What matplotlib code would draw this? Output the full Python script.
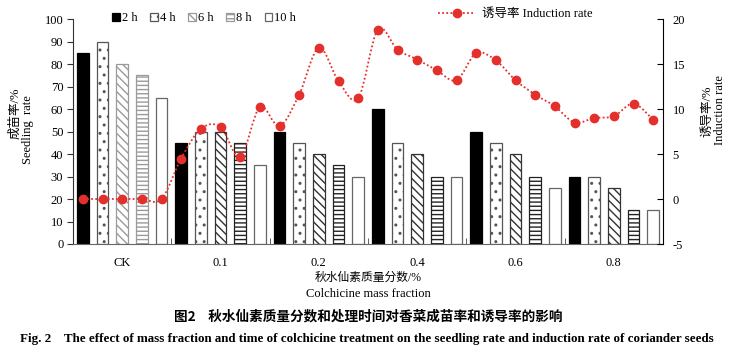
import numpy as np
import matplotlib.pyplot as plt
from matplotlib.path import Path
from matplotlib.patches import PathPatch
from matplotlib.lines import Line2D

plt.rcParams["axes.unicode_minus"] = False

W, H = 733, 352

groups = ["CK", "0.1", "0.2", "0.4", "0.6", "0.8"]
hours = ["2 h", "4 h", "6 h", "8 h", "10 h"]

# seedling rate (%) for each treatment time, one value per mass fraction
seed_2h = [85, 45, 50, 60, 50, 30]
seed_4h = [90, 50, 45, 45, 45, 30]
seed_6h = [80, 50, 40, 40, 40, 25]
seed_8h = [75, 45, 35, 30, 30, 15]
seed_10h = [65, 35, 30, 30, 25, 15]

# induction rate (%), in bar order: CK 2h..10h, 0.1 2h..10h, ...
induct = [0, 0, 0, 0, 0,
          4.5, 7.8, 8.0, 4.7, 10.2,
          8.1, 11.6, 16.8, 13.1, 11.2,
          18.8, 16.6, 15.5, 14.3, 13.2,
          16.2, 15.4, 13.2, 11.6, 10.3,
          8.5, 9.0, 9.2, 10.6, 8.8]

serif = ["Liberation Serif", "Noto Sans CJK SC"]
cjk = ["Noto Sans CJK SC", "Liberation Serif"]
red = "#e3302c"

fig = plt.figure(figsize=(W / 100, H / 100), dpi=100)
ax = fig.add_axes([73 / W, 1 - 244 / H, 590 / W, 225 / H])

series = [seed_2h, seed_4h, seed_6h, seed_8h, seed_10h]
styles = [
    dict(facecolor="black", edgecolor="black", hatch=None),
    dict(facecolor="white", edgecolor="#555555", hatch=".."),
    dict(facecolor="white", edgecolor="#333333", hatch="\\\\\\\\"),
    dict(facecolor="white", edgecolor="#222222", hatch="----"),
    dict(facecolor="white", edgecolor="#666666", hatch=None),
]
ng = len(groups)
handles = []
for h, (vals, st) in enumerate(zip(series, styles)):
    xpos = np.arange(ng) * 5 + h
    bars = ax.bar(xpos, vals, width=0.58, linewidth=0.9, zorder=2, **st)
    handles.append(bars)
    # CK group hatching looks lighter in the original
    if h in (2, 3):
        bars[0].set_edgecolor("#9a9a9a")

ax.set_xlim(-0.5, ng * 5 - 0.5)
ax.set_ylim(0, 100)
ax.set_yticks(range(0, 101, 10))
ax.set_xticks(np.arange(ng) * 5 + 2)
ax.set_xticklabels(groups)
ax.set_xticks(np.arange(1, ng) * 5 - 0.5, minor=True)
ax.tick_params(axis="x", which="major", length=0, pad=9)
ax.tick_params(axis="x", which="minor", direction="in", length=4, color="#444444")
ax.tick_params(axis="y", direction="out", length=4, pad=3, color="#333333")
for lab in ax.get_xticklabels() + ax.get_yticklabels():
    lab.set_family(serif)
    lab.set_fontsize(9)
ax.spines["top"].set_visible(False)
ax.spines["right"].set_visible(False)
ax.spines["left"].set_color("#333333")
ax.spines["bottom"].set_color("#666666")

ax2 = ax.twinx()
ax2.set_ylim(-5, 20)
ax2.set_yticks(range(-5, 21, 5))
ax2.tick_params(axis="y", direction="in", length=4, pad=7)
for lab in ax2.get_yticklabels():
    lab.set_family(serif)
    lab.set_fontsize(9)
ax2.spines["top"].set_visible(False)
ax2.spines["left"].set_visible(False)
ax2.spines["bottom"].set_visible(False)

# smoothed line (Catmull-Rom style bezier through the points)
xs = np.arange(len(induct), dtype=float)
ys = np.array(induct, dtype=float)
pts = np.column_stack([xs, ys])
verts = [tuple(pts[0])]
codes = [Path.MOVETO]
n = len(pts)
for i in range(n - 1):
    p0 = pts[max(i - 1, 0)]
    p1 = pts[i]
    p2 = pts[i + 1]
    p3 = pts[min(i + 2, n - 1)]
    c1 = p1 + (p2 - p0) / 6
    c2 = p2 - (p3 - p1) / 6
    verts += [tuple(c1), tuple(c2), tuple(p2)]
    codes += [Path.CURVE4] * 3
ax2.add_patch(PathPatch(Path(verts, codes), fill=False, edgecolor=red,
                        linewidth=1.3, linestyle=(0, (1, 1.3)), zorder=3))
ax2.plot(xs, ys, "o", color=red, markersize=6, linestyle="none", zorder=4)

leg1 = ax2.legend(handles, hours, ncol=5, loc="upper left",
                  bbox_to_anchor=(112 / W, 1 - 12 / H), bbox_transform=fig.transFigure,
                  frameon=False, borderpad=0, borderaxespad=0,
                  handlelength=0.6, handleheight=0.6, handletextpad=0.2,
                  columnspacing=1.0, prop=dict(family=serif, size=9))
ax2.add_artist(leg1)
proxy = Line2D([], [], color=red, linestyle=(0, (1, 1.3)), linewidth=1.3,
               marker="o", markersize=6)
ax2.legend([proxy], ["诱导率 Induction rate"], loc="upper left",
           bbox_to_anchor=(438 / W, 1 - 8 / H), bbox_transform=fig.transFigure,
           frameon=False, borderpad=0, borderaxespad=0, numpoints=1,
           handlelength=3.0, handletextpad=0.5, prop=dict(family=serif, size=9))

# axis titles
fig.text(15 / W, 1 - 113 / H, "成苗率/%", rotation=90, ha="center", va="center",
         family=serif, fontsize=9)
fig.text(28 / W, 1 - 130 / H, "Seedling  rate", rotation=90, ha="center", va="center",
         family=serif, fontsize=9)
fig.text(707 / W, 1 - 111 / H, "诱导率/%", rotation=90, ha="center", va="center",
         family=serif, fontsize=9)
fig.text(720 / W, 1 - 110 / H, "Induction rate", rotation=90, ha="center", va="center",
         family=serif, fontsize=9)
fig.text(368 / W, 1 - 278 / H, "秋水仙素质量分数/%", ha="center", va="center",
         family=serif, fontsize=8.5)
fig.text(368 / W, 1 - 294 / H, "Colchicine mass fraction", ha="center", va="center",
         family=serif, fontsize=9)

# captions
cap1 = fig.text(368 / W, 1 - 316 / H, "图2    秋水仙素质量分数和处理时间对香菜成苗率和诱导率的影响",
                ha="center", va="center", family=cjk, fontsize=9.5, fontweight="bold")
cap2 = fig.text(367 / W, 1 - 339 / H,
                "Fig. 2    The effect of mass fraction and time of colchicine treatment on the seedling rate and induction rate of coriander seeds",
                ha="center", va="center", family=serif, fontsize=9.5, fontweight="bold")

# fit caption widths to the original
renderer = fig.canvas.get_renderer()
for t, target in ((cap1, 390), (cap2, 701)):
    w = t.get_window_extent(renderer).width
    t.set_fontsize(t.get_fontsize() * target / w)

fig.savefig("out.png", dpi=100)
